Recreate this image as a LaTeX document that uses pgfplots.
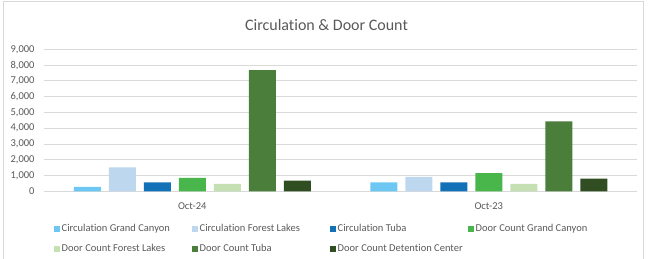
\documentclass[border=0pt]{standalone}
\usepackage{fontspec}
\setmainfont[Ligatures={NoCommon}]{Carlito}
\usepackage{pgfplots}
\pgfplotsset{compat=1.18}
\definecolor{cgc}{HTML}{6CC8F2}
\definecolor{cfl}{HTML}{BDD7EE}
\definecolor{ctu}{HTML}{1271B7}
\definecolor{dgc}{HTML}{48B64B}
\definecolor{dfl}{HTML}{C5E0B3}
\definecolor{dtu}{HTML}{4B7E3B}
\definecolor{ddc}{HTML}{304E22}
\definecolor{txt}{HTML}{595959}
\definecolor{gridc}{HTML}{D9D9D9}
\pgfplotsset{sq/.style={legend image code/.code={\fill[##1] (0bp,-2.2bp) rectangle (6bp,3.8bp);}}}
\newcommand{\lb}[1]{\makebox[118bp][l]{#1}}
\begin{document}
\begin{tikzpicture}[x=1bp,y=1bp]
\path[use as bounding box] (0,0) rectangle (652,258);
\draw[gridc, line width=0.75bp] (3,-5) rectangle (643,256.5);
\node[font=\fontsize{16bp}{19bp}\selectfont, text=txt] at (326.5,233) {Circulation \& Door Count};
\begin{axis}[
  at={(44bp,66.7bp)}, anchor=south west,
  scale only axis, width=593bp, height=142bp,
  ybar=8bp, bar width=27bp,
  xmin=-0.5, xmax=1.5, ymin=0, ymax=9000,
  xtick={0,1}, xticklabels={Oct-24,Oct-23},
  ytick={0,1000,...,9000},
  scaled y ticks=false,
  /pgf/number format/.cd, fixed, precision=0, 1000 sep={,}, assume math mode=true,
  /pgfplots/.cd,
  axis line style={draw=none},
  ymajorgrids, grid style={gridc, line width=0.75bp},
  major tick length=0pt,
  tick label style={font=\fontsize{10.5bp}{12bp}\selectfont, text=txt},
  yticklabel style={xshift=-6bp},
  xticklabel style={anchor=center, yshift=-14.4bp},
  legend columns=4,
  legend style={draw=none, fill=none, inner sep=0pt,
    at={(axis description cs:0,0)}, anchor=north west, xshift=10bp, yshift=-32.4bp,
    font=\fontsize{10.5bp}{12bp}\selectfont, text=txt,
    nodes={inner xsep=1.5bp, inner ysep=0bp, text height=8bp, text depth=3bp},
    /tikz/every even column/.append style={column sep=11bp},
    row sep=9bp},
]
\addplot[fill=cgc, draw=none, sq] coordinates {(0,275) (1,570)};
\addlegendentry{\lb{Circulation Grand Canyon}}
\addplot[fill=cfl, draw=none, sq] coordinates {(0,1520) (1,910)};
\addlegendentry{\lb{Circulation Forest Lakes}}
\addplot[fill=ctu, draw=none, sq] coordinates {(0,570) (1,570)};
\addlegendentry{\lb{Circulation Tuba}}
\addplot[fill=dgc, draw=none, sq] coordinates {(0,845) (1,1160)};
\addlegendentry{\lb{Door Count Grand Canyon}}
\addplot[fill=dfl, draw=none, sq] coordinates {(0,465) (1,465)};
\addlegendentry{\lb{Door Count Forest Lakes}}
\addplot[fill=dtu, draw=none, sq] coordinates {(0,7675) (1,4440)};
\addlegendentry{\lb{Door Count Tuba}}
\addplot[fill=ddc, draw=none, sq] coordinates {(0,680) (1,800)};
\addlegendentry{\lb{Door Count Detention Center}}
\end{axis}
\end{tikzpicture}
\end{document}
